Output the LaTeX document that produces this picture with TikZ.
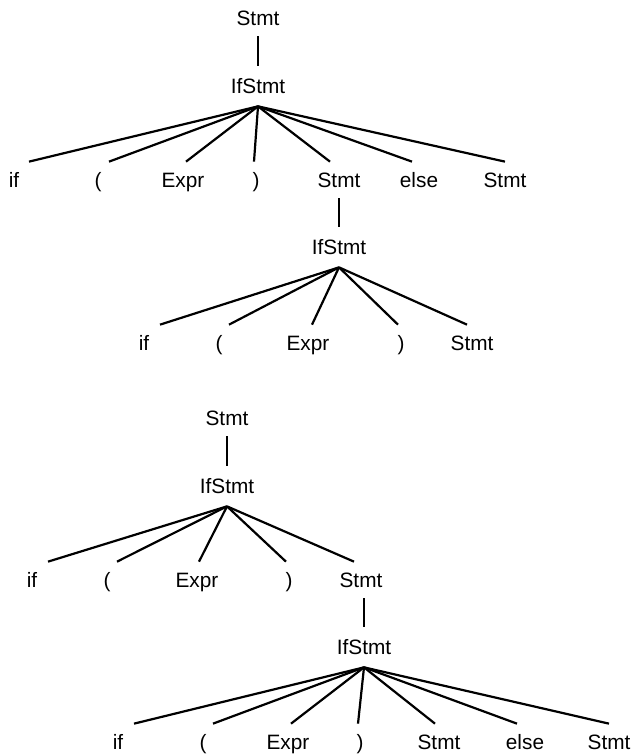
\documentclass[tikz,border=0pt]{standalone}
\usepackage{fontspec}
\setmainfont{Liberation Sans}
\begin{document}
\begin{tikzpicture}[x=0.5pt,y=-0.5pt,
  lab/.style={inner xsep=0pt,inner ysep=5.25pt,text height=7.45pt,text depth=0pt,
    font=\fontsize{10.4}{12}\selectfont},
  ifs/.style={lab,inner ysep=6.25pt},
  edge/.style={line width=1.1pt}]
\useasboundingbox (0,0) rectangle (632,755);
% Tree 1
\node[lab] (s1) at (258,18) {Stmt};
\node[ifs] (i1) at (258,86) {IfStmt};
\node[lab] (a1) at (14,180) {if};
\node[lab] (a2) at (98,180) {(};
\node[lab] (a3) at (183,180) {Expr};
\node[lab] (a4) at (256,180) {)};
\node[lab] (a5) at (339,180) {Stmt};
\node[lab] (a6) at (419,180) {else};
\node[lab] (a7) at (505,180) {Stmt};
\node[ifs] (i2) at (339,247) {IfStmt};
\node[lab] (b1) at (144,343) {if};
\node[lab] (b2) at (219,343) {(};
\node[lab] (b3) at (308,343) {Expr};
\node[lab] (b4) at (401,343) {)};
\node[lab] (b5) at (472,343) {Stmt};
\draw[edge] (s1.south) -- (i1.north);
\draw[edge] (i1.south) -- ([xshift=7.5pt]a1.north);
\draw[edge] (i1.south) -- ([xshift=5.5pt]a2.north);
\draw[edge] (i1.south) -- ([xshift=1.5pt]a3.north);
\draw[edge] (i1.south) -- ([xshift=-1pt]a4.north);
\draw[edge] (i1.south) -- ([xshift=-4.5pt]a5.north);
\draw[edge] (i1.south) -- ([xshift=-3.5pt]a6.north);
\draw[edge] (i1.south) -- (a7.north);
\draw[edge] (a5.south) -- (i2.north);
\draw[edge] (i2.south) -- ([xshift=8pt]b1.north);
\draw[edge] (i2.south) -- ([xshift=5pt]b2.north);
\draw[edge] (i2.south) -- ([xshift=2pt]b3.north);
\draw[edge] (i2.south) -- ([xshift=-1.5pt]b4.north);
\draw[edge] (i2.south) -- ([xshift=-2.5pt]b5.north);
% Tree 2
\node[lab] (s3) at (227,418) {Stmt};
\node[ifs] (i3) at (227,486) {IfStmt};
\node[lab] (c1) at (32,580) {if};
\node[lab] (c2) at (107,580) {(};
\node[lab] (c3) at (197,580) {Expr};
\node[lab] (c4) at (289,580) {)};
\node[lab] (c5) at (361,580) {Stmt};
\node[ifs] (i4) at (364,647) {IfStmt};
\node[lab] (d1) at (118,742) {if};
\node[lab] (d2) at (203,742) {(};
\node[lab] (d3) at (288,742) {Expr};
\node[lab] (d4) at (360,742) {)};
\node[lab] (d5) at (439,742) {Stmt};
\node[lab] (d6) at (525,742) {else};
\node[lab] (d7) at (609,742) {Stmt};
\draw[edge] (s3.south) -- (i3.north);
\draw[edge] (i3.south) -- ([xshift=8pt]c1.north);
\draw[edge] (i3.south) -- ([xshift=5pt]c2.north);
\draw[edge] (i3.south) -- ([xshift=1pt]c3.north);
\draw[edge] (i3.south) -- ([xshift=-1.5pt]c4.north);
\draw[edge] (i3.south) -- ([xshift=-3.5pt]c5.north);
\draw[edge] ([xshift=1.5pt]c5.south) -- (i4.north);
\draw[edge] (i4.south) -- ([xshift=8pt]d1.north);
\draw[edge] (i4.south) -- ([xshift=5pt]d2.north);
\draw[edge] (i4.south) -- ([xshift=1.5pt]d3.north);
\draw[edge] (i4.south) -- ([xshift=-1pt]d4.north);
\draw[edge] (i4.south) -- ([xshift=-2pt]d5.north);
\draw[edge] (i4.south) -- ([xshift=-4pt]d6.north);
\draw[edge] (i4.south) -- (d7.north);
\end{tikzpicture}
\end{document}
